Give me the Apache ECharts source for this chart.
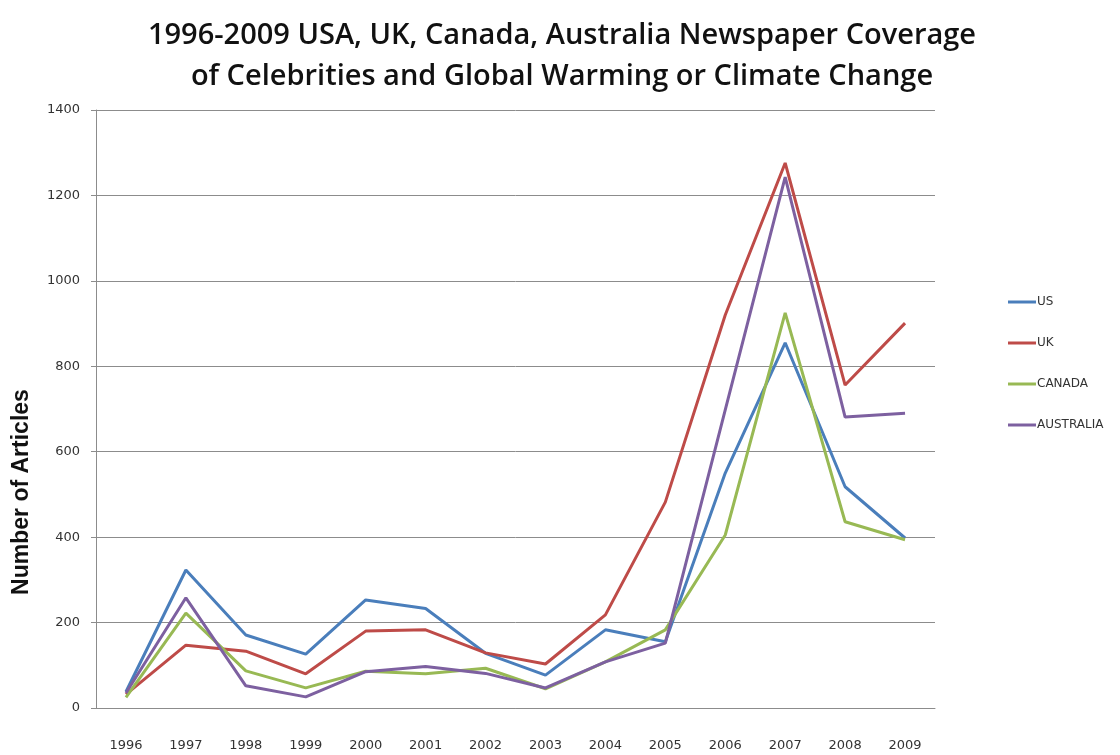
<!DOCTYPE html>
<html>
<head>
<meta charset="utf-8">
<script src="https://cdn.jsdelivr.net/npm/echarts@6/dist/echarts.min.js"></script>
<style>
  html, body { margin: 0; padding: 0; background: #fff; }
  #chart { width: 1120px; height: 755px; }
</style>
</head>
<body>
<div id="chart"></div>
<script>
var years = ['1996', '1997', '1998', '1999', '2000', '2001', '2002', '2003', '2004', '2005', '2006', '2007', '2008', '2009'];
var us = [38, 323, 171, 126, 253, 233, 128, 77, 183, 155, 550, 855, 518, 398];
var uk = [32, 147, 133, 80, 180, 183, 129, 103, 218, 482, 920, 1276, 756, 901];
var canada = [25, 222, 87, 47, 86, 80, 93, 45, 108, 183, 405, 925, 436, 394];
var australia = [35, 258, 52, 26, 85, 97, 81, 47, 108, 152, 698, 1243, 681, 690];

var chart = echarts.init(document.getElementById('chart'), null, { renderer: 'canvas' });

var axisText = {
  color: '#333',
  fontSize: 13,
  fontFamily: 'DejaVu Sans'
};
var gridLine = {
  color: '#8c8c8c',
  width: 1
};

function line(name, data, color) {
  return {
    name: name,
    type: 'line',
    data: data,
    symbol: 'none',
    lineStyle: { color: color, width: 3 },
    itemStyle: { color: color }
  };
}

var option = {
  backgroundColor: '#fff',
  animation: false,
  title: {
    text: '1996-2009 USA, UK, Canada, Australia Newspaper Coverage\nof Celebrities and Global Warming or Climate Change',
    left: 557,
    textAlign: 'center',
    top: 10,
    textStyle: {
      fontFamily: 'Open Sans',
      fontWeight: 600,
      fontSize: 29,
      lineHeight: 41,
      color: '#111'
    }
  },
  // y axis title, rotated, sits a bit below the plot middle like the original
  graphic: [{
    type: 'text',
    x: 22,
    y: 492,
    rotation: Math.PI / 2,
    style: {
      text: 'Number of Articles',
      fontFamily: 'Liberation Sans',
      fontWeight: 'bold',
      fontSize: 23,
      fill: '#111',
      align: 'center',
      verticalAlign: 'middle'
    }
  }],
  grid: {
    left: 96,
    right: 185,
    top: 110,
    bottom: 47,
    containLabel: false
  },
  legend: {
    orient: 'vertical',
    left: 1003,
    top: 291,
    icon: 'rect',
    itemWidth: 28,
    itemHeight: 3,
    itemGap: 29,
    textStyle: {
      fontFamily: 'DejaVu Sans',
      fontSize: 12,
      color: '#333',
      padding: [0, 0, 0, -4]
    },
    data: ['US', 'UK', 'CANADA', 'AUSTRALIA']
  },
  xAxis: {
    type: 'category',
    data: years,
    boundaryGap: true,
    axisLine: { lineStyle: gridLine },
    axisTick: { show: false },
    axisLabel: Object.assign({}, axisText, { margin: 31 })
  },
  yAxis: {
    type: 'value',
    min: 0,
    max: 1400,
    interval: 200,
    axisLine: { show: true, lineStyle: gridLine },
    axisTick: { show: true, length: 5, lineStyle: gridLine },
    splitLine: { lineStyle: gridLine },
    axisLabel: Object.assign({}, axisText, { margin: 16, formatter: function (v) { return String(v); } })
  },
  series: [
    line('US', us, '#4a7ebb'),
    line('UK', uk, '#be4b48'),
    line('CANADA', canada, '#98b954'),
    line('AUSTRALIA', australia, '#7d60a0')
  ]
};

chart.setOption(option);
</script>
</body>
</html>
